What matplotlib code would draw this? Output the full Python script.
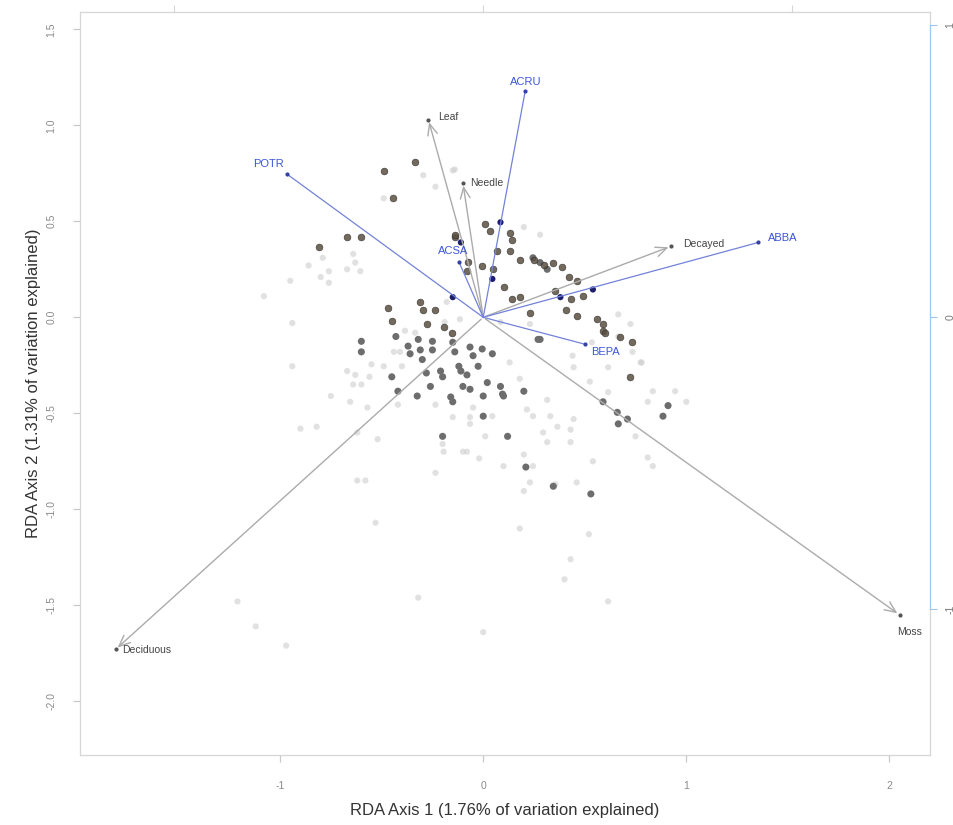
import matplotlib.pyplot as plt
import numpy as np

plt.rcParams['font.family'] = ['Liberation Sans', 'DejaVu Sans']

# environmental vectors (arrows)
env_names = ['Leaf', 'Needle', 'Decayed', 'Moss', 'Deciduous']
env_x = [-0.27, -0.10, 0.925, 2.05, -1.81]
env_y = [1.03, 0.70, 0.37, -1.55, -1.73]

# species vectors (blue lines)
sp_names = ['POTR', 'ACRU', 'ACSA', 'ABBA', 'BEPA']
sp_x = [-0.965, 0.207, -0.12, 1.355, 0.50]
sp_y = [0.745, 1.18, 0.29, 0.39, -0.14]

# site scores, faint grey
faint_x = [-0.94, -0.94, -0.75, -0.90, -0.82, -0.62, -0.52, -0.67, -0.63, -0.55,
           -0.56, -0.64, -0.60, -0.57, -0.655, -0.42, -0.235, -0.385, -0.335, -0.41,
           -0.40, -0.44, -0.49, -0.15, -0.065, -0.065, -0.20, -0.195, -0.10, 0.01,
           -0.05, 0.045, 0.13, 0.18, 0.215, 0.245, 0.315, 0.33, 0.445, 0.365,
           0.295, 0.43, 0.315, 0.43, 0.20, 0.10, 0.245, 0.23, 0.46, 0.54,
           0.20, 0.44, 0.445, 0.525, 0.615, 0.81, 0.835, 0.945, 1.0, 0.75,
           0.81, 0.835, 0.78, 0.615, 0.535, 0.665, -0.62, -0.58, -0.53, -0.235,
           -0.08, -0.02, -1.21, -1.12, -0.97, -0.32, 0.0, 0.355, 0.18, 0.43,
           0.40, 0.52, 0.615, -0.295, -0.235, -0.15, -0.49, -0.79, -0.86, -0.76,
           -0.80, -0.76, -0.67, -0.64, -0.63, -0.605, -0.95, -0.14, 0.28, 0.20,
           0.665, 0.725, 0.775, 0.735, 0.085, -0.115, -0.18, -0.19, -1.08, 0.23]
faint_y = [-0.03, -0.255, -0.41, -0.58, -0.57, -0.60, -0.635, -0.28, -0.30, -0.245,
           -0.31, -0.35, -0.35, -0.47, -0.44, -0.455, -0.455, -0.07, -0.08, -0.18,
           -0.255, -0.18, -0.255, -0.52, -0.52, -0.555, -0.66, -0.70, -0.70, -0.62,
           -0.47, -0.515, -0.235, -0.32, -0.48, -0.515, -0.43, -0.515, -0.53, -0.57,
           -0.60, -0.585, -0.65, -0.65, -0.715, -0.775, -0.775, -0.86, -0.86, -0.75,
           -0.905, -0.20, -0.26, -0.335, -0.39, -0.44, -0.385, -0.385, -0.44, -0.62,
           -0.73, -0.775, -0.235, -0.26, -0.13, -0.10, -0.85, -0.85, -1.07, -0.81,
           -0.70, -0.735, -1.48, -1.61, -1.71, -1.46, -1.64, -0.87, -1.10, -1.26,
           -1.365, -1.13, -1.48, 0.74, 0.68, 0.765, 0.62, 0.31, 0.27, 0.24,
           0.21, 0.18, 0.25, 0.33, 0.285, 0.24, 0.19, 0.77, 0.43, 0.47,
           0.015, -0.035, -0.235, -0.18, -0.025, -0.01, 0.08, -0.025, 0.11, -0.035]

# site scores, solid mid grey
grey_x = [-0.60, -0.60, -0.43, -0.37, -0.36, -0.32, -0.31, -0.30, -0.25, -0.25,
          -0.45, -0.42, -0.28, -0.26, -0.21, -0.20, -0.325, -0.15, -0.14, -0.12,
          -0.11, -0.065, -0.05, -0.025, -0.08, -0.065, -0.005, 0.045, 0.02, 0.085,
          0.095, 0.0, -0.16, -0.15, 0.0, -0.10, -0.20, 0.12, 0.20, 0.10,
          0.21, 0.345, 0.53, 0.59, 0.66, 0.71, 0.665, 0.91, 0.885, 0.27,
          0.28, 0.245, 0.28, 0.315]
grey_y = [-0.125, -0.18, -0.10, -0.15, -0.19, -0.115, -0.17, -0.22, -0.17, -0.125,
          -0.31, -0.385, -0.29, -0.36, -0.28, -0.31, -0.41, -0.13, -0.18, -0.255,
          -0.28, -0.155, -0.20, -0.255, -0.30, -0.375, -0.165, -0.19, -0.34, -0.36,
          -0.40, -0.41, -0.415, -0.44, -0.515, -0.36, -0.62, -0.62, -0.385, -0.41,
          -0.78, -0.88, -0.92, -0.44, -0.495, -0.53, -0.555, -0.46, -0.515, -0.115,
          -0.115, 0.31, 0.285, 0.25]

# site scores, dark / brownish
dark_x = [-0.49, -0.335, -0.445, -0.67, -0.60, -0.81, -0.14, -0.14, 0.01, 0.035,
          0.13, 0.14, 0.07, 0.13, 0.18, 0.345, 0.39, 0.42, 0.46, 0.355,
          0.43, 0.41, 0.46, 0.49, 0.56, 0.59, 0.59, -0.005, 0.05, 0.10,
          0.14, 0.18, -0.075, -0.08, 0.23, 0.735, 0.675, -0.47, -0.45, -0.31,
          -0.295, -0.275, -0.235, -0.195, -0.155, 0.725, 0.60, 0.25, 0.30]
dark_y = [0.76, 0.81, 0.62, 0.42, 0.42, 0.365, 0.42, 0.43, 0.485, 0.45,
          0.44, 0.405, 0.345, 0.345, 0.30, 0.285, 0.26, 0.21, 0.19, 0.135,
          0.095, 0.04, 0.005, 0.11, -0.01, -0.035, -0.07, 0.265, 0.25, 0.16,
          0.095, 0.105, 0.29, 0.24, 0.025, -0.13, -0.10, 0.05, -0.02, 0.08,
          0.04, -0.035, 0.04, -0.05, -0.08, -0.31, -0.08, 0.30, 0.27]

# navy points near the species lines
navy_x = [-0.15, 0.045, 0.085, 0.38, 0.54, -0.11]
navy_y = [0.105, 0.20, 0.495, 0.105, 0.145, 0.39]

fig = plt.figure(figsize=(9.54, 8.25), dpi=100)
ax = fig.add_axes([0.0839, 0.0848, 0.8910, 0.9006])

ax.scatter(faint_x, faint_y, s=20, color='#cdcdcd', alpha=0.6, edgecolors='none', zorder=2)
ax.scatter(grey_x, grey_y, s=26, color='#6d6d6d', edgecolors='none', zorder=3)
ax.scatter(dark_x, dark_y, s=24, color='#5a5040', edgecolors='#262626', linewidths=0.4,
           alpha=0.85, zorder=3)
ax.scatter(navy_x, navy_y, s=20, color='#1d1f6b', edgecolors='none', zorder=4)

# environmental arrows
for name, x, y in zip(env_names, env_x, env_y):
    ax.annotate('', xy=(x, y), xytext=(0, 0),
                arrowprops=dict(arrowstyle='->,head_length=0.8,head_width=0.35',
                                color='#ababab', lw=1.0), zorder=5)
    ax.plot(x, y, 'o', ms=2.0, color='#555555', zorder=6)

env_offsets = {'Leaf': (0.05, 0.015, 'left'), 'Needle': (0.035, 0.0, 'left'),
               'Decayed': (0.06, 0.01, 'left'), 'Moss': (0.05, -0.09, 'center'),
               'Deciduous': (0.03, -0.005, 'left')}
for name, x, y in zip(env_names, env_x, env_y):
    dx, dy, ha = env_offsets[name]
    ax.text(x + dx, y + dy, name, fontsize=7.5, color='#444444', ha=ha, va='center', zorder=7)

# species lines
for name, x, y in zip(sp_names, sp_x, sp_y):
    ax.plot([0, x], [0, y], color='#7282d8', lw=0.9, zorder=5)
    ax.plot(x, y, 'o', ms=2.0, color='#3340a8', zorder=6)

sp_offsets = {'POTR': (-0.09, 0.055, 'center'), 'ACRU': (0.0, 0.045, 'center'),
              'ACSA': (-0.03, 0.055, 'center'), 'ABBA': (0.12, 0.025, 'center'),
              'BEPA': (0.1, -0.04, 'center')}
for name, x, y in zip(sp_names, sp_x, sp_y):
    dx, dy, ha = sp_offsets[name]
    ax.text(x + dx, y + dy, name, fontsize=8, color='#3b55d9', ha=ha, va='center', zorder=7)

ax.set_xlim(-1.985, 2.2)
ax.set_ylim(-2.28, 1.59)

for side in ['left', 'bottom', 'top', 'right']:
    ax.spines[side].set_color('#d6d6d6')
    ax.spines[side].set_linewidth(0.9)

ax.set_xticks([-1, 0, 1, 2])
ax.set_xticklabels(['-1', '0', '1', '2'])
ax.set_yticks([-2, -1.5, -1, -0.5, 0, 0.5, 1, 1.5])
ax.set_yticklabels(['-2.0', '-1.5', '-1.0', '-0.5', '0.0', '0.5', '1.0', '1.5'],
                   rotation=90, va='center')
ax.tick_params(axis='both', colors='#c8c8c8', labelcolor='#8a8a8a', labelsize=7.5,
               length=5, width=0.9)
ax.tick_params(axis='y', pad=12)
ax.tick_params(axis='x', pad=14)

ax.set_xlabel('RDA Axis 1 (1.76% of variation explained)', fontsize=12,
              color='#333333', labelpad=8)
ax.set_ylabel('RDA Axis 2 (1.31% of variation explained)', fontsize=12,
              color='#333333', labelpad=4)

# species scale on the right and top
ax_r = ax.twinx()
ax_r.set_ylim(-2.28 / 1.52, 1.59 / 1.52)
ax_r.spines['right'].set_color('#9ec6ee')
ax_r.spines['right'].set_bounds(-1, 1)
for side in ['left', 'bottom', 'top']:
    ax_r.spines[side].set_visible(False)
ax_r.set_yticks([-1, 0, 1])
ax_r.set_yticklabels(['-1', '0', '1'], rotation=90, va='center')
ax_r.tick_params(axis='y', colors='#9ec6ee', labelcolor='#777777', labelsize=7.5,
                 length=5, pad=6)

ax_t = ax.twiny()
ax_t.set_xlim(-1.985 / 1.52, 2.2 / 1.52)
for side in ['left', 'bottom', 'right', 'top']:
    ax_t.spines[side].set_visible(False)
ax_t.set_xticks([-1, 0, 1])
ax_t.set_xticklabels([])
ax_t.tick_params(axis='x', colors='#d6d6d6', length=5)

fig.savefig('out.png', dpi=100, facecolor='white')
